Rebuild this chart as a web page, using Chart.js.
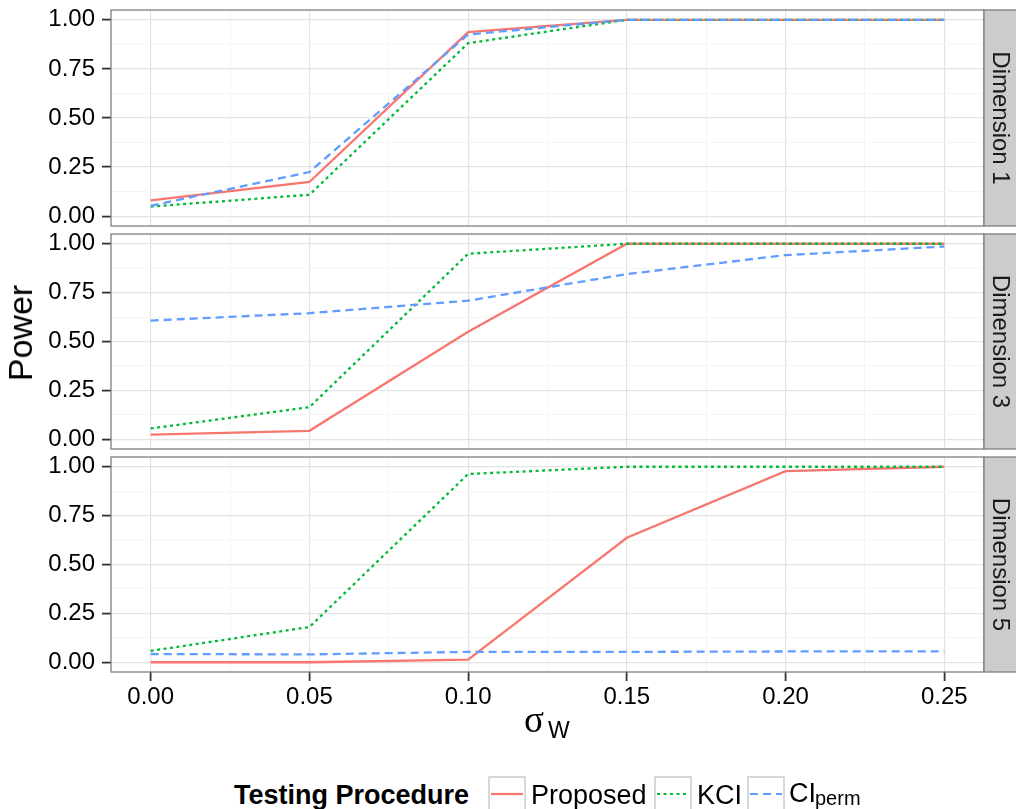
<!DOCTYPE html>
<html>
<head>
<meta charset="utf-8">
<script src="https://cdn.jsdelivr.net/npm/chart.js@4.4.1/dist/chart.umd.min.js"></script>
<style>
  body { margin: 0; background: #fff; width: 1016px; height: 809px; overflow: hidden; position: relative;
         font-family: "Liberation Sans", Arial, sans-serif; color: #000; }
  .panel { position: absolute; left: 0; width: 1016px; }
  .txt { position: absolute; white-space: nowrap; line-height: 1; }
  .key { position: absolute; top: 776px; }
</style>
</head>
<body>

<div class="panel" style="top:0px;height:230px"><canvas id="dim1"></canvas></div>
<div class="panel" style="top:230px;height:223px"><canvas id="dim3"></canvas></div>
<div class="panel" style="top:453px;height:257px"><canvas id="dim5"></canvas></div>

<div class="txt" id="ytitle" style="left:20px;top:333px;font-size:34px;transform:translate(-50%,-50%) rotate(-90deg)">Power</div>

<div class="txt" style="left:524px;top:701px;font-size:37px;font-family:'Liberation Serif','DejaVu Serif',serif">σ</div>
<div class="txt" style="left:548px;top:719px;font-size:23px">W</div>

<div class="txt" style="left:234px;top:782px;font-size:27px;font-weight:bold">Testing Procedure</div>
<svg class="key" style="left:488px" width="38" height="38"><rect x="1" y="1" width="36" height="36" fill="#fff" stroke="#cccccc" stroke-width="1.5"/><line x1="3" y1="18" x2="35" y2="18" stroke="#F8766D" stroke-width="2.2"/></svg>
<div class="txt" style="left:531px;top:782px;font-size:27px">Proposed</div>
<svg class="key" style="left:654px" width="38" height="38"><rect x="1" y="1" width="36" height="36" fill="#fff" stroke="#cccccc" stroke-width="1.5"/><line x1="3" y1="18" x2="35" y2="18" stroke="#00BA38" stroke-width="2.2" stroke-dasharray="3 3.5"/></svg>
<div class="txt" style="left:697px;top:782px;font-size:27px">KCI</div>
<svg class="key" style="left:747px" width="38" height="38"><rect x="1" y="1" width="36" height="36" fill="#fff" stroke="#cccccc" stroke-width="1.5"/><line x1="3" y1="18" x2="35" y2="18" stroke="#619CFF" stroke-width="2.2" stroke-dasharray="8 5"/></svg>
<div class="txt" style="left:789px;top:780px;font-size:27px">CI</div>
<div class="txt" style="left:815px;top:788px;font-size:20px">perm</div>

<script>
// sigma_W values on the x axis
const SIGMA = [0, 0.05, 0.10, 0.15, 0.20, 0.25];

// Dimension 1
const PROPOSED_D1 = [0.080, 0.174, 0.937, 1.000, 1.000, 1.000];
const KCI_D1      = [0.049, 0.109, 0.881, 1.000, 1.000, 1.000];
const CIPERM_D1   = [0.053, 0.225, 0.925, 1.000, 1.000, 1.000];

// Dimension 3
const PROPOSED_D3 = [0.024, 0.043, 0.550, 1.000, 1.000, 1.000];
const KCI_D3      = [0.055, 0.164, 0.949, 1.000, 1.000, 1.000];
const CIPERM_D3   = [0.607, 0.645, 0.709, 0.845, 0.942, 0.986];

// Dimension 5
const PROPOSED_D5 = [0.000, 0.000, 0.013, 0.637, 0.978, 1.000];
const KCI_D5      = [0.058, 0.180, 0.963, 1.000, 1.000, 1.000];
const CIPERM_D5   = [0.042, 0.040, 0.053, 0.053, 0.055, 0.056];

const X_MAJOR = [0, 0.05, 0.10, 0.15, 0.20, 0.25];
const X_MINOR = [0.025, 0.075, 0.125, 0.175, 0.225];
const Y_MAJOR = [0, 0.25, 0.5, 0.75, 1];
const Y_MINOR = [0.125, 0.375, 0.625, 0.875];

const COLORS = { proposed: '#F8766D', kci: '#00BA38', ciperm: '#619CFF' };
const FONT = '"Liberation Sans", Arial, sans-serif';

const facetPlugin = {
    id: 'facet',
    afterDraw(chart, args, opts) {
        const { ctx, chartArea: a } = chart;
        ctx.save();
        ctx.strokeStyle = '#7f7f7f';
        ctx.lineWidth = 1.3;
        ctx.strokeRect(a.left, a.top, a.right - a.left, a.bottom - a.top);
        ctx.fillStyle = '#cccccc';
        ctx.fillRect(a.right, a.top, 40, a.bottom - a.top);
        ctx.strokeRect(a.right, a.top, 40, a.bottom - a.top);
        ctx.translate(a.right + 16, (a.top + a.bottom) / 2);
        ctx.rotate(Math.PI / 2);
        ctx.fillStyle = '#1a1a1a';
        ctx.font = '24px ' + FONT;
        ctx.textAlign = 'center';
        ctx.textBaseline = 'middle';
        ctx.fillText(opts.label, 0, 0);
        ctx.restore();
    }
};

function series(label, values, color, dash, order) {
    return {
        label: label,
        data: SIGMA.map((x, i) => ({ x: x, y: values[i] })),
        borderColor: color,
        borderWidth: 2.3,
        borderDash: dash,
        pointRadius: 0,
        fill: false,
        tension: 0,
        order: order
    };
}

function makePanel(id, label, proposed, kci, ciperm, padTop, padBottom, showX) {
    const config = {
        type: 'line',
        data: {
            datasets: [
                series('Proposed', proposed, COLORS.proposed, [], 3),
                series('KCI', kci, COLORS.kci, [3, 3.5], 2),
                series('CI_perm', ciperm, COLORS.ciperm, [8, 5], 1)
            ]
        },
        options: {
            responsive: true,
            maintainAspectRatio: false,
            animation: false,
            layout: { padding: { top: padTop, bottom: padBottom, left: 0, right: 32 } },
            plugins: {
                legend: { display: false },
                tooltip: { enabled: false },
                facet: { label: label }
            },
            scales: {
                x: {
                    type: 'linear',
                    min: -0.0125,
                    max: 0.2625,
                    afterBuildTicks: s => { s.ticks = X_MAJOR.concat(X_MINOR).map(v => ({ value: v })); },
                    afterFit: s => { s.height = showX ? 38 : 0; s.paddingLeft = 0; s.paddingRight = 0; },
                    ticks: {
                        display: showX,
                        autoSkip: false,
                        maxRotation: 0,
                        padding: 2,
                        color: '#000',
                        font: { size: 24, family: FONT },
                        callback: v => X_MAJOR.includes(v) ? v.toFixed(2) : ''
                    },
                    grid: {
                        color: c => X_MAJOR.includes(c.tick.value) ? '#e3e3e3' : '#f5f5f5',
                        lineWidth: c => X_MAJOR.includes(c.tick.value) ? 1.2 : 1,
                        drawTicks: showX,
                        tickLength: 9,
                        tickWidth: 1.8,
                        tickColor: c => X_MAJOR.includes(c.tick.value) ? '#333' : 'rgba(0,0,0,0)'
                    },
                    border: { display: false }
                },
                y: {
                    min: -0.05,
                    max: 1.05,
                    afterBuildTicks: s => { s.ticks = Y_MAJOR.concat(Y_MINOR).map(v => ({ value: v })); },
                    afterFit: s => { s.width = 111; s.paddingTop = 0; s.paddingBottom = 0; },
                    ticks: {
                        autoSkip: false,
                        padding: 7,
                        color: '#000',
                        font: { size: 24, family: FONT },
                        callback: v => Y_MAJOR.includes(v) ? v.toFixed(2) : ''
                    },
                    grid: {
                        color: c => Y_MAJOR.includes(c.tick.value) ? '#e3e3e3' : '#f5f5f5',
                        lineWidth: c => Y_MAJOR.includes(c.tick.value) ? 1.2 : 1,
                        tickLength: 9,
                        tickWidth: 1.8,
                        tickColor: c => Y_MAJOR.includes(c.tick.value) ? '#333' : 'rgba(0,0,0,0)'
                    },
                    border: { display: false }
                }
            }
        },
        plugins: [facetPlugin]
    };
    return new Chart(document.getElementById(id).getContext('2d'), config);
}

makePanel('dim1', 'Dimension 1', PROPOSED_D1, KCI_D1, CIPERM_D1, 10, 4, false);
makePanel('dim3', 'Dimension 3', PROPOSED_D3, KCI_D3, CIPERM_D3, 4, 4, false);
makePanel('dim5', 'Dimension 5', PROPOSED_D5, KCI_D5, CIPERM_D5, 4, 0, true);
</script>
</body>
</html>
